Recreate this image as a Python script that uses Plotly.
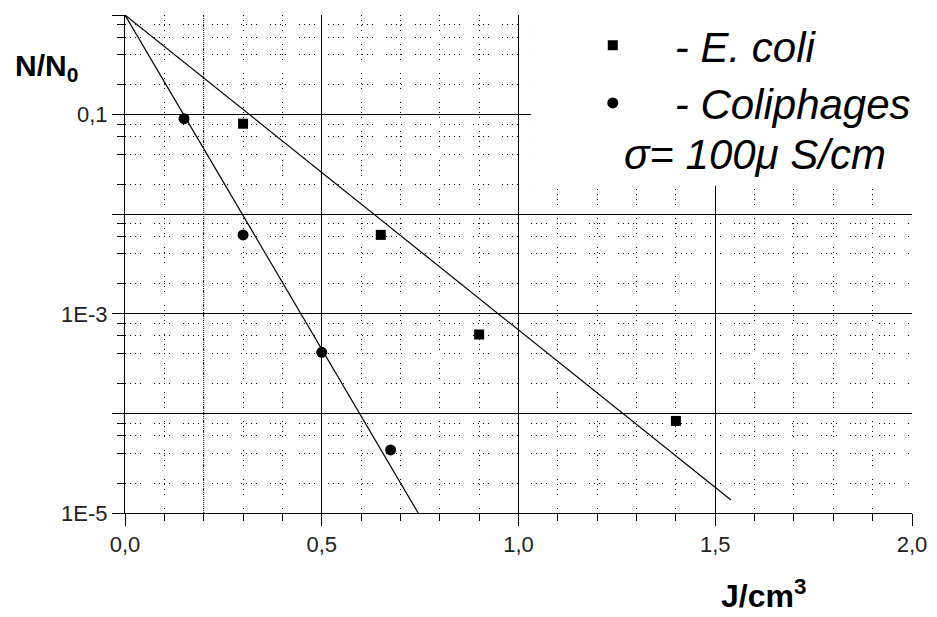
import plotly.graph_objects as go

# ---- data ----
ecoli_x = [0.30, 0.65, 0.90, 1.40]
ecoli_y = [0.081, 6.2e-3, 6.2e-4, 8.4e-5]
phage_x = [0.15, 0.30, 0.50, 0.675]
phage_y = [0.091, 6.2e-3, 4.1e-4, 4.3e-5]

ecoli_fit_x = [0.0, 1.54]
ecoli_fit_y = [1.0, 1.35e-5]
phage_fit_x = [0.0, 0.745]
phage_fit_y = [1.0, 1.0e-5]

x_tickvals = [0.0, 0.5, 1.0, 1.5, 2.0]
x_ticktext = ["0,0", "0,5", "1,0", "1,5", "2,0"]
y_tickvals = [1e-5, 1e-4, 1e-3, 1e-2, 1e-1, 1.0]
y_ticktext = ["1E-5", "", "1E-3", "", "0,1", ""]
y_minor_vals = [m * d for d in [1e-5, 1e-4, 1e-3, 1e-2, 1e-1] for m in [2, 4, 6, 8]]

FONT = "Liberation Sans, Arial, sans-serif"
DOTS = "1px,4px,1px,4px,1px,4px,1px,13px"

fig = go.Figure()
fig.add_trace(go.Scatter(x=ecoli_fit_x, y=ecoli_fit_y, mode="lines",
                         line=dict(color="black", width=1.2), showlegend=False, hoverinfo="skip"))
fig.add_trace(go.Scatter(x=phage_fit_x, y=phage_fit_y, mode="lines",
                         line=dict(color="black", width=1.2), showlegend=False, hoverinfo="skip"))
fig.add_trace(go.Scatter(x=ecoli_x, y=ecoli_y, mode="markers", name="- E. coli",
                         marker=dict(symbol="square", size=10, color="black")))
fig.add_trace(go.Scatter(x=phage_x, y=phage_y, mode="markers", name="- Coliphages",
                         marker=dict(symbol="circle", size=11, color="black")))

fig.update_xaxes(
    range=[0, 2], showline=True, linecolor="black", linewidth=1,
    tickmode="array", tickvals=x_tickvals, ticktext=x_ticktext,
    ticks="outside", ticklen=12, tickcolor="black",
    tickfont=dict(family=FONT, size=22, color="#222"),
    showgrid=True, gridcolor="black", gridwidth=1, zeroline=False,
    minor=dict(dtick=0.1, tick0=0, ticks="outside", ticklen=7, tickcolor="black",
               showgrid=True, gridcolor="black", gridwidth=1, griddash=DOTS),
)
fig.update_yaxes(
    type="log", range=[-5, 0], showline=True, linecolor="black", linewidth=1,
    tickmode="array", tickvals=y_tickvals, ticktext=y_ticktext,
    ticks="outside", ticklen=12, tickcolor="black",
    tickfont=dict(family=FONT, size=22, color="#222"),
    showgrid=True, gridcolor="black", gridwidth=1, zeroline=False,
    minor=dict(tickmode="array", tickvals=y_minor_vals, ticks="outside", ticklen=7,
               tickcolor="black", showgrid=True, gridcolor="black", gridwidth=1,
               griddash=DOTS),
)

# dense dotted vertical line at 0.2
fig.add_shape(type="line", xref="x", yref="paper", x0=0.2, x1=0.2, y0=0, y1=1,
              line=dict(color="black", width=1, dash="1px,1px"), layer="below")
# white box behind legend text
fig.add_shape(type="rect", xref="paper", yref="paper", x0=0.516, x1=1.02, y0=0.657, y1=1.0,
              fillcolor="white", line=dict(width=0), layer="above")

# the page body has an 8px margin, so the figure is 8px smaller and its margins shifted
fig.update_layout(
    width=929, height=609,
    margin=dict(l=117, r=25, t=7, b=104, autoexpand=False),
    paper_bgcolor="white", plot_bgcolor="white",
    showlegend=True,
    legend=dict(x=0.541, y=1.007, xanchor="left", yanchor="top",
                bgcolor="rgba(255,255,255,0)", borderwidth=0,
                itemwidth=114, tracegroupgap=0,
                font=dict(family=FONT, size=42, color="black", style="italic")),
    annotations=[
        dict(text="<b>N/N<sub>0</sub></b>", xref="paper", yref="paper",
             x=-0.142, y=0.894, xanchor="left", yanchor="middle", showarrow=False,
             font=dict(family=FONT, size=30, color="black")),
        dict(text="<b>J/cm<sup>3</sup></b>", xref="paper", yref="paper",
             x=0.755, y=-0.207, xanchor="left", yanchor="bottom", showarrow=False,
             font=dict(family=FONT, size=32, color="black")),
        dict(text="<i>σ= 100μ S/cm</i>", xref="paper", yref="paper",
             x=0.6315, y=0.719, xanchor="left", yanchor="middle", showarrow=False,
             font=dict(family=FONT, size=42, color="black")),
    ],
)

fig.write_html("out.html")
